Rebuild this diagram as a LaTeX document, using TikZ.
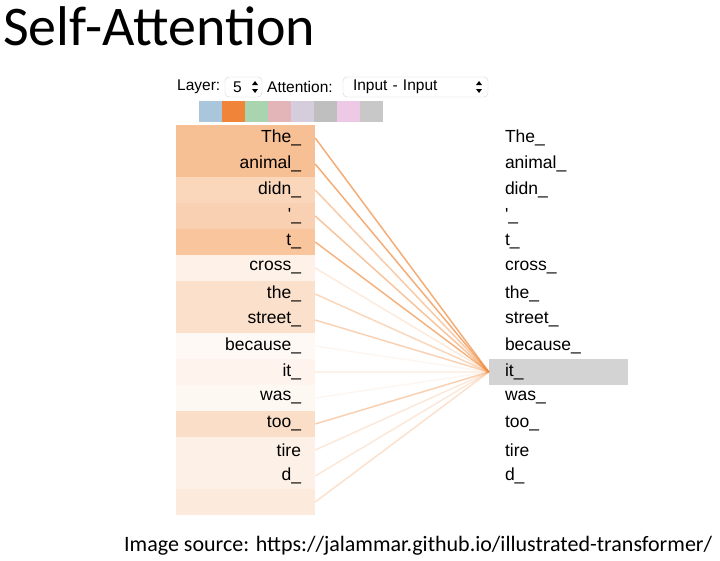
\documentclass[tikz,border=0pt]{standalone}
\usepackage{fontspec}
\setmainfont{Liberation Sans}
\newfontfamily\titlefont{Carlito}

\definecolor{attn}{HTML}{F08A3C}
\definecolor{selgray}{HTML}{D3D3D3}
\definecolor{swblue}{HTML}{A9C6DD}
\definecolor{sworange}{HTML}{F0853A}
\definecolor{swgreen}{HTML}{A8D5B0}
\definecolor{swrose}{HTML}{E4B5B8}
\definecolor{swlilac}{HTML}{D5CCDC}
\definecolor{swgray}{HTML}{BFBFBF}
\definecolor{swpink}{HTML}{EDC9E6}
\definecolor{swsilver}{HTML}{C8C8C8}

\tikzset{
  lword/.style={minimum height=26pt, text width=111pt, inner xsep=14pt, inner ysep=0pt,
    align=right, font=\fontsize{17.5}{19}\selectfont},
  rword/.style={minimum height=26pt, text width=107pt, inner xsep=16pt, inner ysep=0pt,
    align=left, font=\fontsize{17.5}{19}\selectfont},
  attnline/.style={draw=attn, line width=1.5pt},
  swatch/.style={minimum width=23pt, minimum height=21pt, inner sep=0pt},
  selectbox/.style={draw=gray!35, rounded corners=4pt, minimum height=20pt, inner ysep=0pt,
    align=left, font=\fontsize{15.5}{17}\selectfont},
  label/.style={inner sep=0pt, font=\fontsize{15.5}{17}\selectfont}
}

\begin{document}
\begin{tikzpicture}[x=1pt, y=-1pt]
        \useasboundingbox (0,0) rectangle (720,560);
        \node[anchor=base west, inner sep=0pt, font=\titlefont\fontsize{56}{62}\selectfont] (title) at (3,45) {Self-Attention};

        \node[label, anchor=west] (layer) at (177,87) {Layer:};
        \node[selectbox, minimum width=37pt, text width=21pt, inner xsep=8pt] (layersel) at (243.5,87) {5};
        \node[label, anchor=west] (attention) at (267,87) {Attention:};
        \node[selectbox, minimum width=145pt, text width=125pt, inner xsep=10pt] (attnsel) at (415.5,87) {Input - Input};
        \fill (252,85) -- (255,81) -- (258,85) -- cycle;
        \fill (252,89) -- (255,93) -- (258,89) -- cycle;
        \fill (476,85) -- (479,81) -- (482,85) -- cycle;
        \fill (476,89) -- (479,93) -- (482,89) -- cycle;

        \node[swatch, fill=swblue] (sw1) at (210.5,111.5) {};
        \node[swatch, fill=sworange] (sw2) at (233.5,111.5) {};
        \node[swatch, fill=swgreen] (sw3) at (256.5,111.5) {};
        \node[swatch, fill=swrose] (sw4) at (279.5,111.5) {};
        \node[swatch, fill=swlilac] (sw5) at (302.5,111.5) {};
        \node[swatch, fill=swgray] (sw6) at (325.5,111.5) {};
        \node[swatch, fill=swpink] (sw7) at (348.5,111.5) {};
        \node[swatch, fill=swsilver] (sw8) at (371.5,111.5) {};

        \node[lword, fill=attn!55!white] (l1) at (245.5,138) {The\_};
        \node[lword, fill=attn!55!white] (l2) at (245.5,164) {animal\_};
        \node[lword, fill=attn!35!white] (l3) at (245.5,190) {didn\_};
        \node[lword, fill=attn!40!white] (l4) at (245.5,216) {\textquotesingle\_};
        \node[lword, fill=attn!50!white] (l5) at (245.5,242) {t\_};
        \node[lword, fill=attn!12!white] (l6) at (245.5,268) {cross\_};
        \node[lword, fill=attn!26!white] (l7) at (245.5,294) {the\_};
        \node[lword, fill=attn!26!white] (l8) at (245.5,320) {street\_};
        \node[lword, fill=attn!5!white] (l9) at (245.5,346) {because\_};
        \node[lword, fill=attn!9!white] (l10) at (245.5,372) {it\_};
        \node[lword, fill=attn!6!white] (l11) at (245.5,398) {was\_};
        \node[lword, fill=attn!28!white] (l12) at (245.5,424) {too\_};
        \node[lword, fill=attn!13!white] (l13) at (245.5,450) {tire};
        \node[lword, fill=attn!13!white] (l14) at (245.5,476) {d\_};
        \node[lword, fill=attn!18!white] (l15) at (245.5,502) {};

        \node[rword] (r1) at (558.5,138) {The\_};
        \node[rword] (r2) at (558.5,164) {animal\_};
        \node[rword] (r3) at (558.5,190) {didn\_};
        \node[rword] (r4) at (558.5,216) {\textquotesingle\_};
        \node[rword] (r5) at (558.5,242) {t\_};
        \node[rword] (r6) at (558.5,268) {cross\_};
        \node[rword] (r7) at (558.5,294) {the\_};
        \node[rword] (r8) at (558.5,320) {street\_};
        \node[rword] (r9) at (558.5,346) {because\_};
        \node[rword, fill=selgray] (r10) at (558.5,372) {it\_};
        \node[rword] (r11) at (558.5,398) {was\_};
        \node[rword] (r12) at (558.5,424) {too\_};
        \node[rword] (r13) at (558.5,450) {tire};
        \node[rword] (r14) at (558.5,476) {d\_};

        \draw [attnline, opacity=0.7] (l1.east) -- (r10.west);
        \draw [attnline, opacity=0.7] (l2.east) -- (r10.west);
        \draw [attnline, opacity=0.45] (l3.east) -- (r10.west);
        \draw [attnline, opacity=0.5] (l4.east) -- (r10.west);
        \draw [attnline, opacity=0.65] (l5.east) -- (r10.west);
        \draw [attnline, opacity=0.18] (l6.east) -- (r10.west);
        \draw [attnline, opacity=0.35] (l7.east) -- (r10.west);
        \draw [attnline, opacity=0.38] (l8.east) -- (r10.west);
        \draw [attnline, opacity=0.08] (l9.east) -- (r10.west);
        \draw [attnline, opacity=0.12] (l10.east) -- (r10.west);
        \draw [attnline, opacity=0.08] (l11.east) -- (r10.west);
        \draw [attnline, opacity=0.4] (l12.east) -- (r10.west);
        \draw [attnline, opacity=0.2] (l13.east) -- (r10.west);
        \draw [attnline, opacity=0.2] (l14.east) -- (r10.west);
        \draw [attnline, opacity=0.25] (l15.east) -- (r10.west);

        \node[anchor=base west, inner sep=0pt, font=\titlefont\fontsize{22}{26}\selectfont] (source) at (124,551) {Image source: https://jalammar.github.io/illustrated-transformer/};
      \end{tikzpicture}
\end{document}
